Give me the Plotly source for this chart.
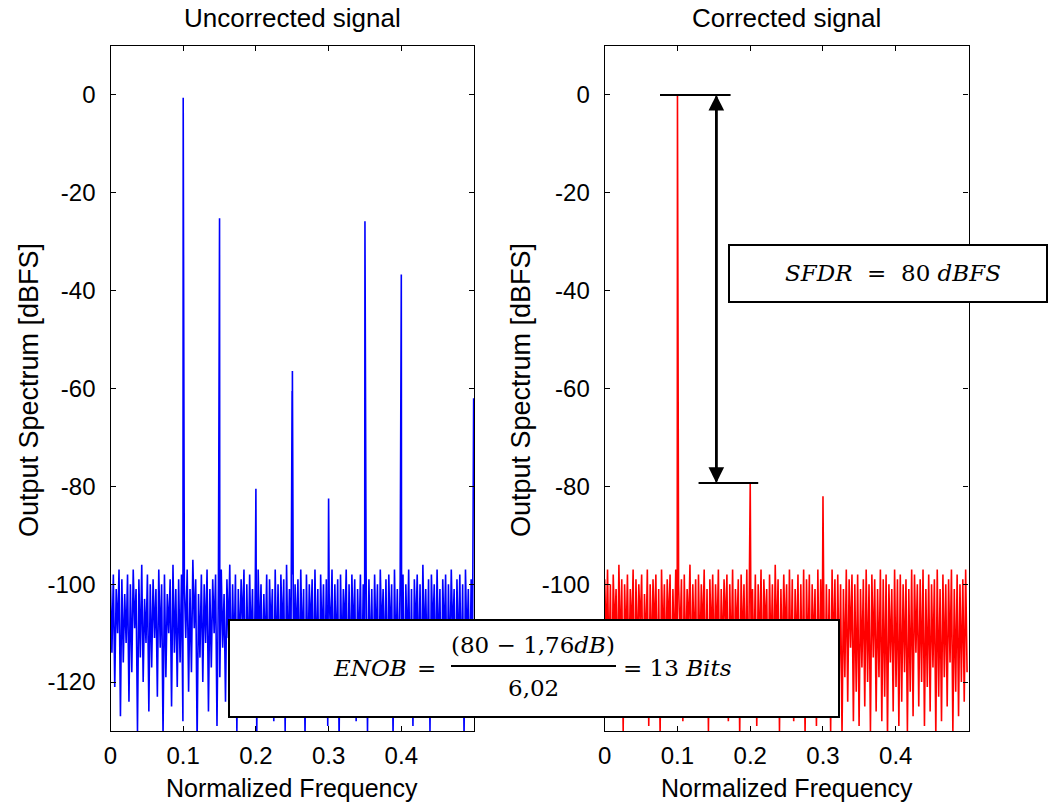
import numpy as np
import plotly.graph_objects as go

# ---------------- data ----------------
# noise floor, one value per FFT bin (256 bins across 0..0.5)
blue_noise = [
    -100,-114,-98,-121,-101,-110,-97,-127,-99,-116,-102,-112,-98,-124,-100,-118,
    -97,-109,-101,-130,-99,-115,-96,-120,-103,-112,-98,-126,-100,-117,-99,-111,
    -101,-123,-97,-113,-100,-131,-98,-119,-102,-110,-99,-125,-96,-114,-101,-121,
    -99,-116,-98,-128,-100,-111,-97,-122,-101,-118,-95,-109,-99,-132,-102,-115,
    -98,-120,-100,-112,-97,-126,-101,-117,-99,-110,-98,-129,-100,-119,-97,-113,
    -102,-124,-99,-111,-96,-121,-100,-116,-98,-130,-101,-114,-99,-109,-97,-127,
    -100,-118,-98,-113,-101,-123,-99,-131,-97,-112,-100,-120,-102,-115,-98,-125,
    -99,-110,-101,-128,-97,-117,-100,-122,-98,-111,-99,-130,-96,-116,-101,-119,
    -98,-126,-100,-112,-99,-121,-97,-114,-101,-131,-98,-118,-100,-110,-99,-124,
    -97,-117,-101,-127,-98,-113,-100,-120,-99,-129,-102,-111,-97,-122,-100,-115,
    -99,-132,-98,-116,-101,-110,-97,-125,-100,-119,-98,-112,-99,-128,-101,-114,
    -98,-121,-100,-109,-97,-130,-99,-117,-101,-123,-98,-113,-100,-126,-97,-111,
    -101,-118,-99,-124,-98,-112,-100,-131,-97,-116,-101,-120,-99,-110,-98,-127,
    -100,-114,-97,-122,-101,-129,-99,-111,-98,-119,-100,-125,-96,-113,-101,-117,
    -99,-130,-98,-110,-100,-121,-97,-115,-101,-127,-99,-112,-98,-123,-100,-118,
    -97,-111,-101,-126,-99,-116,-98,-120,-100,-131,-97,-113,-101,-122,-99,-109,
]
red_noise = [
    -99,-112,-97,-118,-100,-125,-98,-110,-101,-121,-96,-115,-99,-130,-100,-113,
    -98,-120,-101,-111,-97,-127,-99,-116,-100,-109,-98,-123,-102,-114,-97,-129,
    -100,-117,-99,-111,-98,-122,-101,-131,-97,-113,-100,-119,-99,-110,-98,-126,
    -101,-115,-97,-124,-100,-112,-99,-128,-98,-118,-101,-110,-96,-121,-100,-114,
    -99,-127,-98,-116,-100,-111,-97,-123,-101,-130,-99,-113,-98,-119,-100,-112,
    -97,-125,-101,-115,-99,-110,-98,-128,-100,-117,-97,-122,-101,-111,-99,-131,
    -98,-114,-100,-120,-97,-126,-99,-112,-101,-118,-98,-129,-100,-115,-97,-123,
    -99,-110,-101,-127,-98,-116,-100,-121,-96,-113,-99,-130,-101,-118,-98,-112,
    -100,-124,-97,-119,-99,-128,-101,-115,-98,-126,-100,-121,-97,-131,-99,-117,
    -98,-125,-100,-114,-101,-129,-97,-122,-99,-118,-98,-127,-100,-120,-101,-130,
    -97,-116,-99,-126,-98,-121,-100,-131,-101,-119,-97,-124,-99,-113,-98,-128,
    -100,-122,-98,-129,-101,-117,-99,-125,-97,-120,-100,-130,-98,-115,-99,-126,
    -101,-119,-97,-128,-99,-123,-98,-131,-100,-116,-101,-126,-97,-121,-99,-129,
    -98,-124,-100,-118,-99,-130,-101,-122,-97,-127,-98,-114,-100,-125,-99,-120,
    -97,-129,-101,-121,-98,-126,-100,-117,-99,-131,-97,-123,-101,-128,-98,-119,
    -100,-125,-99,-116,-97,-130,-101,-122,-98,-127,-100,-120,-99,-124,-97,-118,
]

# spurs / tones
blue_spur_freq = [0.1, 0.15, 0.2, 0.2498, 0.2502, 0.3, 0.35, 0.4, 0.4995]
blue_spur_db   = [-0.6, -25.2, -80.5, -60.5, -56.4, -82.5, -25.8, -36.7, -62.0]
red_spur_freq  = [0.1, 0.2, 0.3]
red_spur_db    = [0.0, -79.3, -82.0]

x_ticks = [0, 0.1, 0.2, 0.3, 0.4]
x_tick_text = ["0", "0.1", "0.2", "0.3", "0.4"]
y_ticks = [0, -20, -40, -60, -80, -100, -120]
y_tick_text = ["0", "-20", "-40", "-60", "-80", "-100", "-120"]
# right panel: the -120 label sits under the ENOB box in the original
y_tick_text_right = ["0", "-20", "-40", "-60", "-80", "-100", ""]

sfdr_top_db = 0.0
sfdr_bottom_db = -79.3
sfdr_arrow_freq = 0.1534

# ---------------- build ----------------
W, H = 1050, 805
FONT = "Liberation Sans, Arial, sans-serif"
MATH = "DejaVu Serif, serif"


def merged(noise, sf, sd):
    n = len(noise)
    fx = list(np.arange(n) * (0.5 / n))
    pts = sorted(zip(fx + list(sf), list(noise) + list(sd)), key=lambda p: p[0])
    return [p[0] for p in pts], [p[1] for p in pts]


bx, by = merged(blue_noise, blue_spur_freq, blue_spur_db)
rx, ry = merged(red_noise, red_spur_freq, red_spur_db)

fig = go.Figure()
fig.add_trace(go.Scatter(x=bx, y=by, mode="lines", line=dict(color="#0000ff", width=1.6),
                         xaxis="x", yaxis="y", hoverinfo="skip", showlegend=False))
fig.add_trace(go.Scatter(x=rx, y=ry, mode="lines", line=dict(color="#ff0000", width=1.6),
                         xaxis="x2", yaxis="y2", hoverinfo="skip", showlegend=False))

L1, R1 = 110.5 / W, 474 / W
L2, R2 = 604.7 / W, 968.5 / W
B, T = 1 - 731 / H, 1 - 46 / H

axcommon = dict(showline=True, linecolor="black", linewidth=1.3, mirror="ticks",
                ticks="inside", ticklen=5, tickwidth=1, tickcolor="black",
                showgrid=False, zeroline=False, automargin=False,
                tickfont=dict(family=FONT, size=24, color="black"))

fig.update_layout(
    width=W, height=H, margin=dict(l=0, r=0, t=0, b=0, autoexpand=False),
    paper_bgcolor="white", plot_bgcolor="white", showlegend=False,
    hovermode=False,
    xaxis=dict(domain=[L1, R1], range=[0, 0.5], tickvals=x_ticks, ticktext=x_tick_text,
               anchor="y", ticklabelstandoff=3, **axcommon),
    yaxis=dict(domain=[B, T], range=[-130, 10], tickvals=y_ticks, ticktext=y_tick_text,
               anchor="x", ticklabelstandoff=9, **axcommon),
    xaxis2=dict(domain=[L2, R2], range=[0, 0.5], tickvals=x_ticks, ticktext=x_tick_text,
                anchor="y2", ticklabelstandoff=3, **axcommon),
    yaxis2=dict(domain=[B, T], range=[-130, 10], tickvals=y_ticks, ticktext=y_tick_text_right,
                anchor="x2", ticklabelstandoff=9, **axcommon),
)

ann = []
tf = dict(family=FONT, size=25, color="black")
# titles
ann.append(dict(text="Uncorrected signal", x=(L1 + R1) / 2, y=1 - 18 / H, xref="paper", yref="paper",
                showarrow=False, font=dict(family=FONT, size=26, color="black"),
                xanchor="center", yanchor="middle"))
ann.append(dict(text="Corrected signal", x=(L2 + R2) / 2, y=1 - 18 / H, xref="paper", yref="paper",
                showarrow=False, font=dict(family=FONT, size=26, color="black"),
                xanchor="center", yanchor="middle"))
# x titles
for cx in [(L1 + R1) / 2, (L2 + R2) / 2]:
    ann.append(dict(text="Normalized Frequency", x=cx, y=1 - 788 / H, xref="paper", yref="paper",
                    showarrow=False, font=tf, xanchor="center", yanchor="middle"))
# y titles
for px in [29, 521]:
    ann.append(dict(text="Output Spectrum [dBFS]", x=px / W, y=1 - 390 / H, xref="paper", yref="paper",
                    showarrow=False, font=dict(family=FONT, size=27, color="black"),
                    textangle=-90, xanchor="center", yanchor="middle"))

# SFDR double arrow (each arrow spans the full height so the shaft is continuous)
for tip, tail in [(sfdr_top_db, sfdr_bottom_db), (sfdr_bottom_db, sfdr_top_db)]:
    ann.append(dict(x=sfdr_arrow_freq, y=tip, ax=sfdr_arrow_freq, ay=tail, xref="x2", yref="y2",
                    axref="x2", ayref="y2", showarrow=True, arrowhead=2, arrowsize=1.25,
                    arrowwidth=2.5, arrowcolor="black", text=""))

# SFDR box text
mf = dict(family=MATH, size=23, color="black")
NB = "&nbsp;"
ann.append(dict(text=f"<i>SFDR</i>{NB}{NB}={NB}{NB}80{NB}<i>dBFS</i>", x=893 / W, y=1 - 273 / H,
                xref="paper", yref="paper",
                showarrow=False, font=mf, xanchor="center", yanchor="middle"))
# ENOB box text
ann.append(dict(text="<i>ENOB</i>", x=331 / W, y=1 - 668 / H, xref="paper", yref="paper",
                showarrow=False, font=mf, xanchor="left", yanchor="middle"))
ann.append(dict(text="=", x=426 / W, y=1 - 668 / H, xref="paper", yref="paper",
                showarrow=False, font=mf, xanchor="center", yanchor="middle"))
ann.append(dict(text="(80 − 1,76<i>dB</i>)", x=533 / W, y=1 - 645 / H, xref="paper", yref="paper",
                showarrow=False, font=mf, xanchor="center", yanchor="middle"))
ann.append(dict(text="6,02", x=533 / W, y=1 - 688 / H, xref="paper", yref="paper",
                showarrow=False, font=mf, xanchor="center", yanchor="middle"))
ann.append(dict(text=f"={NB}13{NB}<i>Bits</i>", x=621 / W, y=1 - 668 / H, xref="paper", yref="paper",
                showarrow=False, font=mf, xanchor="left", yanchor="middle"))
fig.update_layout(annotations=ann)

shapes = []
# SFDR horizontal markers
shapes.append(dict(type="line", xref="x2", yref="y2", x0=0.076, x1=0.173, y0=sfdr_top_db, y1=sfdr_top_db,
                   line=dict(color="black", width=2), layer="above"))
shapes.append(dict(type="line", xref="x2", yref="y2", x0=0.129, x1=0.211, y0=sfdr_bottom_db, y1=sfdr_bottom_db,
                   line=dict(color="black", width=2), layer="above"))
# SFDR box
shapes.append(dict(type="rect", xref="paper", yref="paper", x0=729 / W, x1=1047 / W,
                   y0=1 - 302 / H, y1=1 - 245 / H, fillcolor="white",
                   line=dict(color="black", width=2), layer="above"))
# ENOB box
shapes.append(dict(type="rect", xref="paper", yref="paper", x0=229 / W, x1=839 / W,
                   y0=1 - 717 / H, y1=1 - 620 / H, fillcolor="white",
                   line=dict(color="black", width=2), layer="above"))
# fraction bar
shapes.append(dict(type="line", xref="paper", yref="paper", x0=451 / W, x1=616 / W,
                   y0=1 - 666 / H, y1=1 - 666 / H, line=dict(color="black", width=2), layer="above"))
fig.update_layout(shapes=shapes)

fig.write_html("out.html", config={"displayModeBar": False})
